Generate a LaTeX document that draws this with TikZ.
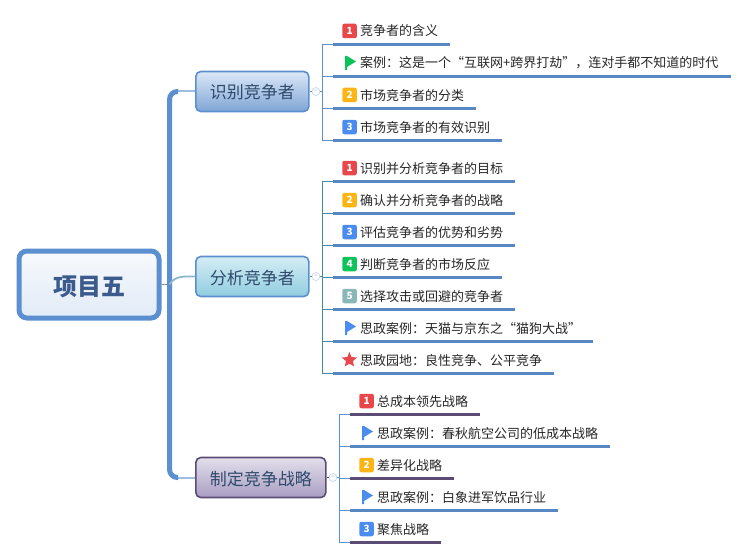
\documentclass[tikz,border=0pt]{standalone}
\usepackage{fontspec}
\setmainfont{Noto Sans CJK SC}
\usetikzlibrary{positioning,shapes.geometric}
\definecolor{trunkblue}{HTML}{5B8FD0}
\definecolor{twigblue}{HTML}{9DBDE3}
\definecolor{underblue}{HTML}{5788C4}
\definecolor{stemteal}{HTML}{3F8AA6}
\definecolor{darkpurple}{HTML}{5B4B75}
\definecolor{badgered}{HTML}{E8484A}
\definecolor{badgeamber}{HTML}{FDB515}
\definecolor{badgeblue}{HTML}{4A8CF0}
\definecolor{badgegreen}{HTML}{0CC35A}
\definecolor{badgeteal}{HTML}{8BB7B8}
\definecolor{roottext}{HTML}{3B5B8C}
\definecolor{topictext}{HTML}{2F4A6B}
\tikzset{
	rootbox/.style={draw=trunkblue,line width=5pt,rounded corners=8pt,top color=white!95!trunkblue,bottom color=white!82!trunkblue,minimum width=140pt,minimum height=67pt,text=roottext,text height=23pt,text depth=1pt,font=\fontsize{24}{28}\selectfont\bfseries},
	topic/.style={draw=trunkblue,line width=1.6pt,rounded corners=5pt,anchor=west,minimum height=40pt,inner xsep=14pt,inner ysep=0pt,text=topictext,text height=16pt,text depth=1pt,font=\fontsize{17}{20}\selectfont},
	fold/.style={draw=twigblue!60,circle,fill=white,line width=0.7pt,minimum size=8pt,inner sep=0pt,text=black!40,font=\fontsize{7}{7}\selectfont},
	leaf/.style={anchor=west,minimum height=26pt,inner sep=0pt,text=black!85,text height=11pt,text depth=1pt,font=\fontsize{13}{15}\selectfont},
	badge/.style={rounded corners=2pt,minimum size=14.5pt,inner sep=0pt,text=white,font=\fontsize{10}{10}\selectfont\bfseries},
	stem/.style={line width=0.9pt},
	under/.style={line width=3pt},
	trunk/.style={draw=trunkblue,line width=5pt},
	twig/.style={draw=twigblue,line width=2pt}
}
\newcommand{\underleaf}[4]{
	\draw[stem,draw=#3] (#2) |- ([xshift=-27pt]#1.south west);
	\draw[under,draw=#4] ([xshift=-27pt]#1.south west) -- ([xshift=12pt]#1.south east);
}
\newcommand{\flagmark}[2]{
	\fill[#2] ([xshift=-15pt,yshift=7pt]#1.west) -- ++(2,0) -- ++(9,5.5) -- ++(-9,5.5) -- ++(0,3) -- ++(-2,0) -- cycle;
}
\begin{document}
\begin{tikzpicture}[x=1pt,y=-1pt]
	\useasboundingbox (0,0) rectangle (751,559);
	\node[rootbox] (root) at (89,284.5) {项目五};
	\node[topic,top color={rgb,255:red,220;green,232;blue,248},bottom color={rgb,255:red,127;green,165;blue,213}] (a) at (195,91.5) {识别竞争者};
	\node[topic,top color={rgb,255:red,213;green,237;blue,245},bottom color={rgb,255:red,144;green,205;blue,224}] (b) at (195,276.5) {分析竞争者};
	\node[topic,draw=darkpurple,top color={rgb,255:red,227;green,223;blue,236},bottom color={rgb,255:red,169;green,157;blue,194}] (c) at (195,477.5) {制定竞争战略};
	\node[fold,right=2pt of a] (fa) {–};
	\node[fold,right=2pt of b] (fb) {–};
	\node[fold,right=2pt of c] (fc) {–};
	\coordinate[right=2pt of fa] (sa);
	\coordinate[right=2pt of fb] (sb);
	\coordinate[right=2pt of fc] (sc);
	\coordinate[right=8pt of root.east] (mid);

	\draw[line width=0.9pt,draw=black!45] (root) -- (mid);
	\draw[twig] (a.west) -- ([xshift=-17pt]a.west);
	\draw[twig] (c.west) -- ([xshift=-17pt]c.west);
	\draw[trunk,rounded corners=8pt] ([xshift=-17pt]a.west) -| (mid) |- ([xshift=-17pt]c.west);
	\draw[line width=1.8pt,draw=stemteal!60] (mid) to[out=60,in=180] (b.west);
	\draw[stem,draw=trunkblue] (a) -- (fa);
	\draw[stem,draw=trunkblue] (fa) -- (sa);
	\draw[stem,draw=stemteal] (b) -- (fb);
	\draw[stem,draw=stemteal] (fb) -- (sb);
	\draw[stem,draw=darkpurple] (c) -- (fc);
	\draw[stem,draw=trunkblue] (fc) -- (sc);

	\node[leaf] (a1) at (360,31) {竞争者的含义};
	\node[leaf] (a2) at (360,63) {案例：这是一个“互联网+跨界打劫”，连对手都不知道的时代};
	\node[leaf] (a3) at (360,95) {市场竞争者的分类};
	\node[leaf] (a4) at (360,127) {市场竞争者的有效识别};
	\node[badge,fill=badgered,left=3pt of a1] (a1n) {1};
	\node[badge,fill=badgeamber,left=3pt of a3] (a3n) {2};
	\node[badge,fill=badgeblue,left=3pt of a4] (a4n) {3};
	\flagmark{a2}{badgegreen}
	\underleaf{a1}{sa}{trunkblue}{underblue}
	\underleaf{a2}{sa}{trunkblue}{underblue}
	\underleaf{a3}{sa}{trunkblue}{underblue}
	\underleaf{a4}{sa}{trunkblue}{underblue}

	\node[leaf] (b1) at (360,168) {识别并分析竞争者的目标};
	\node[leaf] (b2) at (360,200) {确认并分析竞争者的战略};
	\node[leaf] (b3) at (360,232) {评估竞争者的优势和劣势};
	\node[leaf] (b4) at (360,264) {判断竞争者的市场反应};
	\node[leaf] (b5) at (360,296) {选择攻击或回避的竞争者};
	\node[leaf] (b6) at (360,328) {思政案例：天猫与京东之“猫狗大战”};
	\node[leaf] (b7) at (360,360) {思政园地：良性竞争、公平竞争};
	\node[badge,fill=badgered,left=3pt of b1] (b1n) {1};
	\node[badge,fill=badgeamber,left=3pt of b2] (b2n) {2};
	\node[badge,fill=badgeblue,left=3pt of b3] (b3n) {3};
	\node[badge,fill=badgegreen,left=3pt of b4] (b4n) {4};
	\node[badge,fill=badgeteal,left=3pt of b5] (b5n) {5};
	\flagmark{b6}{badgeblue}
	\node[star,star points=5,star point ratio=2.2,fill=badgered,minimum size=16pt,inner sep=0pt,left=5.5pt of b7] (b7n) {};
	\underleaf{b1}{sb}{stemteal}{underblue}
	\underleaf{b2}{sb}{stemteal}{underblue}
	\underleaf{b3}{sb}{stemteal}{underblue}
	\underleaf{b4}{sb}{stemteal}{underblue}
	\underleaf{b5}{sb}{stemteal}{underblue}
	\underleaf{b6}{sb}{stemteal}{underblue}
	\underleaf{b7}{sb}{stemteal}{underblue}

	\node[leaf] (c1) at (377,401) {总成本领先战略};
	\node[leaf] (c2) at (377,433) {思政案例：春秋航空公司的低成本战略};
	\node[leaf] (c3) at (377,465) {差异化战略};
	\node[leaf] (c4) at (377,497) {思政案例：白象进军饮品行业};
	\node[leaf] (c5) at (377,529) {聚焦战略};
	\node[badge,fill=badgered,left=3pt of c1] (c1n) {1};
	\node[badge,fill=badgeamber,left=3pt of c3] (c3n) {2};
	\node[badge,fill=badgeblue,left=3pt of c5] (c5n) {3};
	\flagmark{c2}{badgeblue}
	\flagmark{c4}{badgeblue}
	\underleaf{c1}{sc}{trunkblue}{darkpurple}
	\underleaf{c2}{sc}{trunkblue}{underblue}
	\underleaf{c3}{sc}{trunkblue}{darkpurple}
	\underleaf{c4}{sc}{trunkblue}{underblue}
	\underleaf{c5}{sc}{trunkblue}{darkpurple}
\end{tikzpicture}
\end{document}
